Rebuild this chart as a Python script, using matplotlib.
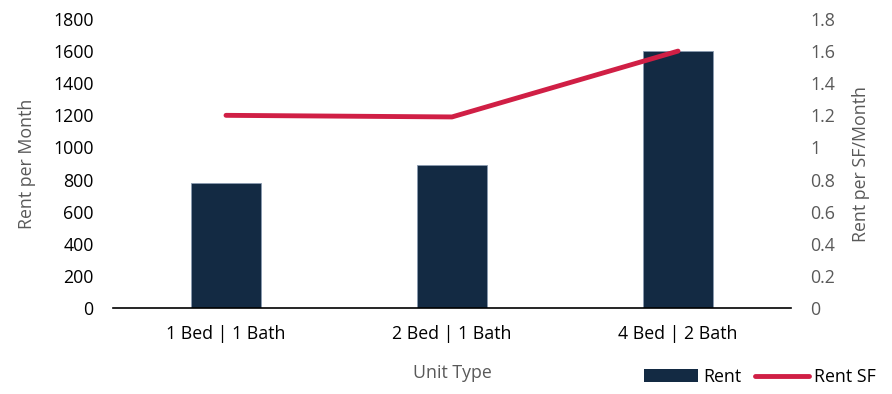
import matplotlib.pyplot as plt
from matplotlib.lines import Line2D
from matplotlib.patches import Patch

units = ["1 Bed | 1 Bath", "2 Bed | 1 Bath", "4 Bed | 2 Bath"]
rent = [780, 890, 1600]
rent_sf = [1.20, 1.19, 1.60]

bar_color = "#132a43"
line_color = "#d01f45"
gray = "#595959"

plt.rcParams["font.family"] = ["Open Sans", "DejaVu Sans"]

fig = plt.figure(figsize=(8.92, 3.94), dpi=100)
ax = fig.add_axes([113 / 892, 1 - 308 / 394, 678 / 892, 289 / 394])
ax2 = ax.twinx()

x = range(len(units))
ax.bar(x, rent, width=0.314, color=bar_color, edgecolor="#8a9bb0", linewidth=0.6, zorder=2)
ax2.plot(x, rent_sf, color=line_color, linewidth=3.5, solid_capstyle="round", zorder=3)

ax.set_xlim(-0.5, 2.5)
ax.set_ylim(0, 1800)
ax.set_yticks(range(0, 1801, 200))
ax2.set_ylim(0, 1.8)
ax2.set_yticks([0, 0.2, 0.4, 0.6, 0.8, 1.0, 1.2, 1.4, 1.6, 1.8])
ax2.set_yticklabels(["0", "0.2", "0.4", "0.6", "0.8", "1", "1.2", "1.4", "1.6", "1.8"])

ax.set_xticks(list(x))
ax.set_xticklabels(units)

for a in (ax, ax2):
    for s in ("top", "left", "right", "bottom"):
        a.spines[s].set_visible(False)
ax.spines["bottom"].set_visible(True)
ax.spines["bottom"].set_color("black")
ax.spines["bottom"].set_linewidth(1.2)

fs = 12.8
ax.tick_params(axis="y", length=0, labelsize=fs, colors="black", pad=14)
ax.tick_params(axis="x", length=0, labelsize=fs, colors="black", pad=12)
ax2.tick_params(axis="y", length=0, labelsize=fs, colors=gray, pad=14)

ax.set_ylabel("Rent per Month", color=gray, fontsize=fs, labelpad=12)
ax2.set_ylabel("Rent per SF/Month", color=gray, fontsize=fs, labelpad=12)
ax.set_xlabel("Unit Type", color=gray, fontsize=fs, labelpad=15)

handles = [
    Patch(facecolor=bar_color, label="Rent"),
    Line2D([0], [0], color=line_color, linewidth=3.5, solid_capstyle="round", label="Rent SF"),
]
fig.legend(handles=handles, loc="lower right", bbox_to_anchor=(1.0, -0.02), ncol=2,
           frameon=False, fontsize=fs, handlelength=3.0, handletextpad=0.3,
           columnspacing=0.8)

fig.savefig("out.png", dpi=100)
